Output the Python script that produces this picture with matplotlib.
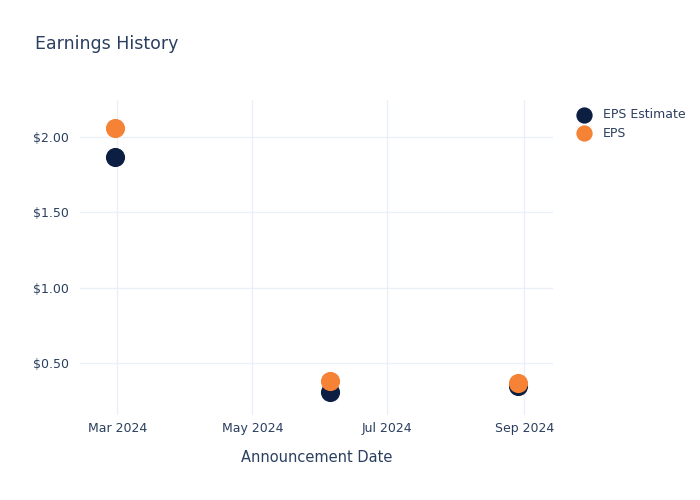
import matplotlib
matplotlib.use("Agg")
import matplotlib.pyplot as plt
from matplotlib import dates as mdates
from matplotlib.ticker import FuncFormatter
from datetime import datetime as dt

dates = [dt(2024, 2, 29), dt(2024, 6, 5), dt(2024, 8, 29)]
epsEstimate = [1.87, 0.31, 0.35]
eps = [2.06, 0.38, 0.37]

textColor = "#2a3f5f"
gridColor = "#ebf0f8"

fig = plt.figure(figsize=(7.0, 5.0), dpi=100)
ax = fig.add_axes([0.114, 0.17, 0.676, 0.63])

ax.scatter(dates, epsEstimate, s=190, color="#0c1f42", zorder=3, label="EPS Estimate", linewidths=0)
ax.scatter(dates, eps, s=190, color="#f58235", zorder=4, label="EPS", linewidths=0)

ax.set_xlim(dt(2024, 2, 13), dt(2024, 9, 14))
ax.set_ylim(0.155, 2.245)
ax.set_yticks([0.5, 1.0, 1.5, 2.0])
ax.yaxis.set_major_formatter(FuncFormatter(lambda v, p: "${:.2f}".format(v)))
ax.xaxis.set_major_locator(mdates.MonthLocator(bymonth=[3, 5, 7, 9]))
ax.xaxis.set_major_formatter(mdates.DateFormatter("%b %Y"))

ax.grid(True, color=gridColor, linewidth=1)
ax.set_axisbelow(True)
for s in ax.spines.values():
    s.set_visible(False)
ax.tick_params(axis="y", length=0, labelsize=9, colors=textColor, pad=8)
ax.tick_params(axis="x", length=0, labelsize=9, colors=textColor, pad=5)

ax.set_xlabel("Announcement Date", fontsize=10.5, color=textColor, labelpad=10.5)
fig.text(0.05, 0.912, "Earnings History", fontsize=12.5, color=textColor, va="center")

ax.legend(loc="upper left", bbox_to_anchor=(1.015, 1.01), frameon=False, fontsize=9,
          labelcolor=textColor, markerscale=0.85, handletextpad=0.55, labelspacing=0.45)

fig.savefig("out.png", dpi=100, facecolor="white")
